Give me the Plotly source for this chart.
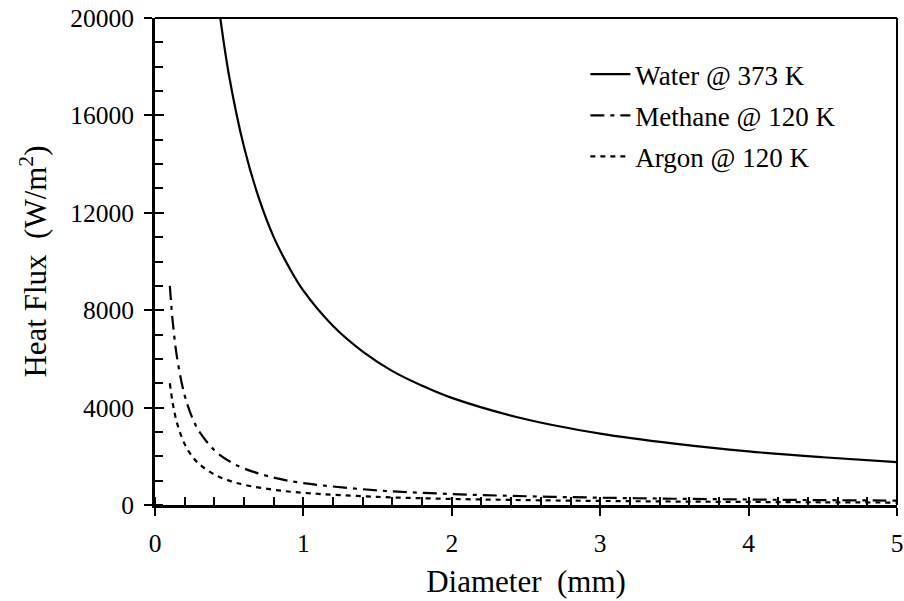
import plotly.graph_objects as go

# Diameter (mm) and heat flux (W/m^2)
d_water = [0.44, 0.5, 0.6, 0.7, 0.8, 0.9, 1.0, 1.2, 1.4, 1.6, 1.8, 2.0, 2.5, 3.0, 3.5, 4.0, 4.5, 5.0]
q_water = [20000, 17600, 14700, 12600, 11000, 9800, 8800, 7350, 6300, 5500, 4900, 4400, 3520, 2930, 2520, 2200, 1960, 1760]

d_methane = [0.1, 0.12, 0.15, 0.2, 0.25, 0.3, 0.4, 0.5, 0.6, 0.8, 1.0, 1.5, 2.0, 2.5, 3.0, 3.5, 4.0, 4.5, 5.0]
q_methane = [9000, 7500, 6000, 4500, 3600, 3000, 2250, 1800, 1500, 1125, 900, 600, 450, 360, 300, 257, 225, 200, 180]

d_argon = [0.1, 0.12, 0.15, 0.2, 0.25, 0.3, 0.4, 0.5, 0.6, 0.8, 1.0, 1.5, 2.0, 2.5, 3.0, 3.5, 4.0, 4.5, 5.0]
q_argon = [5000, 4170, 3330, 2500, 2000, 1670, 1250, 1000, 830, 625, 500, 333, 250, 200, 167, 143, 125, 111, 100]

names = ["Water @ 373 K", "Methane @ 120 K", "Argon @ 120 K"]
x_ticks = [0, 1, 2, 3, 4, 5]
y_ticks = [0, 4000, 8000, 12000, 16000, 20000]

FONT = "'Liberation Serif', 'Times New Roman', Times, serif"

fig = go.Figure()
fig.add_trace(go.Scatter(x=d_water, y=q_water, mode="lines", name=names[0], legendgroup="a",
                         line=dict(color="black", width=2.2, shape="spline", dash="solid")))
fig.add_trace(go.Scatter(x=d_methane, y=q_methane, mode="lines", name=names[1], legendgroup="b",
                         line=dict(color="black", width=2.2, shape="spline", dash="14px,6px,4px,6px")))
fig.add_trace(go.Scatter(x=d_argon, y=q_argon, mode="lines", name=names[2], legendgroup="c",
                         line=dict(color="black", width=2.2, shape="spline", dash="5px,5px")))
# helper trace for the inner half of major ticks
fig.add_trace(go.Scatter(x=[], y=[], xaxis="x2", yaxis="y2", showlegend=False, hoverinfo="skip"))

common = dict(showgrid=False, zeroline=False, color="black", automargin=False)
fig.update_layout(
    width=904, height=601,
    margin=dict(l=155, r=7, t=18, b=96),
    paper_bgcolor="white", plot_bgcolor="white",
    font=dict(family=FONT, size=25, color="black"),
    showlegend=True,
    legend=dict(x=0.58, y=0.934, xanchor="left", yanchor="top", bgcolor="rgba(0,0,0,0)",
                font=dict(family=FONT, size=27), traceorder="grouped", tracegroupgap=3,
                itemwidth=40),
    xaxis=dict(range=[0, 5], tickvals=x_ticks, ticktext=[str(v) for v in x_ticks],
               ticks="outside", ticklen=8, tickwidth=2, tickcolor="black",
               showline=True, linewidth=3, linecolor="black", ticklabelstandoff=5,
               minor=dict(dtick=0.2, ticks="inside", ticklen=8, tickwidth=2, tickcolor="black"),
               title=dict(text="Diameter  (mm)", font=dict(family=FONT, size=31), standoff=14),
               tickfont=dict(family=FONT, size=25.5), **common),
    yaxis=dict(range=[0, 20000], tickvals=y_ticks, ticktext=[str(v) for v in y_ticks],
               ticks="outside", ticklen=8, tickwidth=2, tickcolor="black",
               showline=True, linewidth=3, linecolor="black", ticklabelstandoff=5,
               minor=dict(dtick=1000, ticks="inside", ticklen=8, tickwidth=2, tickcolor="black"),
               title=dict(text="Heat Flux  (W/m<sup>2</sup>)", font=dict(family=FONT, size=31), standoff=15),
               tickfont=dict(family=FONT, size=25.5), **common),
    xaxis2=dict(overlaying="x", matches="x", anchor="y2", side="bottom", range=[0, 5],
                tickvals=x_ticks, ticks="inside", ticklen=8, tickwidth=2, tickcolor="black",
                showticklabels=False, showline=False, **common),
    yaxis2=dict(overlaying="y", matches="y", anchor="x2", side="left", range=[0, 20000],
                tickvals=y_ticks, ticks="inside", ticklen=9, tickwidth=2, tickcolor="black",
                showticklabels=False, showline=False, **common),
    shapes=[
        dict(type="line", xref="paper", yref="paper", x0=0, x1=1, y0=1, y1=1,
             line=dict(color="black", width=2)),
        dict(type="line", xref="paper", yref="paper", x0=1, x1=1, y0=0, y1=1,
             line=dict(color="black", width=2)),
    ],
)

fig.write_html("out.html")
